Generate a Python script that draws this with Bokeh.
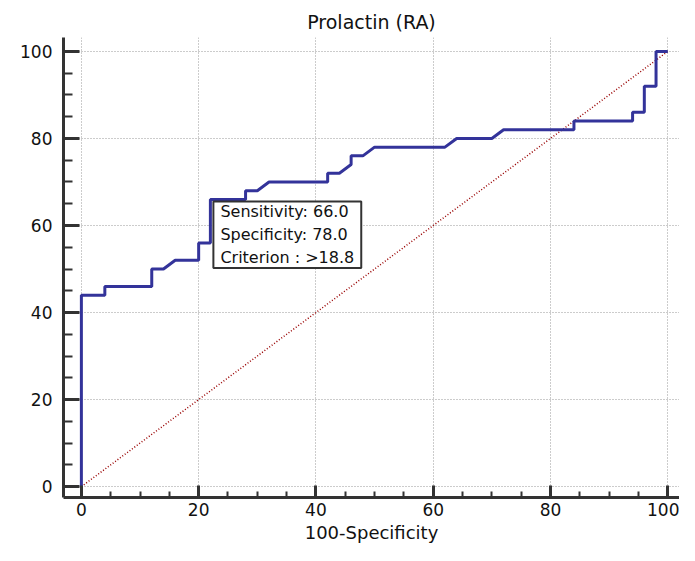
from bokeh.plotting import figure
from bokeh.models import Range1d, Label, SingleIntervalTicker
from bokeh.embed import file_html
from bokeh.resources import INLINE

# ROC curve points (100-Specificity, Sensitivity)
fpr = [0, 0, 4, 4, 12, 12, 14, 16, 20, 20, 22, 22, 28, 28, 30, 32, 42, 42, 44, 46,
       46, 48, 50, 62, 64, 70, 72, 84, 84, 94, 94, 96, 96, 98, 98, 100]
tpr = [0, 44, 44, 46, 46, 50, 50, 52, 52, 56, 56, 66, 66, 68, 68, 70, 70, 72, 72, 74,
       76, 76, 78, 78, 80, 80, 82, 82, 84, 84, 86, 86, 92, 92, 100, 100]
ref_x = [0, 100]
ref_y = [0, 100]
crit_point = (22, 66)
crit_text = "Sensitivity: 66.0\nSpecificity: 78.0\nCriterion : >18.8"
title_text = "Prolactin (RA)"
x_label = "100-Specificity"

FONT = "DejaVu Sans"

p = figure(width=679, height=545, output_backend="svg", toolbar_location=None,
           x_range=Range1d(-3.05, 102.0), y_range=Range1d(-2.5, 103.2),
           title=title_text, min_border_left=63, min_border_right=0,
           min_border_top=37, min_border_bottom=42)
p.outline_line_color = None
p.background_fill_color = "white"
p.border_fill_color = "white"

p.title.align = "center"
p.title.offset = 7
p.title.standoff = 9
p.title.text_font = FONT
p.title.text_font_size = "19px"
p.title.text_font_style = "normal"
p.title.text_color = "#111111"

for ax, maj, mnr in ((p.xaxis[0], 12, 6), (p.yaxis[0], 16, 9)):
    ax.ticker = SingleIntervalTicker(interval=20, num_minor_ticks=4)
    ax.axis_line_width = 3
    ax.axis_line_color = "#333333"
    ax.major_tick_line_width = 3
    ax.major_tick_line_color = "#333333"
    ax.minor_tick_line_width = 2
    ax.minor_tick_line_color = "#333333"
    ax.major_tick_in = maj
    ax.major_tick_out = 0
    ax.minor_tick_in = mnr
    ax.minor_tick_out = 0
    ax.major_label_text_font = FONT
    ax.major_label_text_font_size = "17px"
    ax.major_label_text_color = "#111111"
    ax.major_label_standoff = 5

p.yaxis.major_label_standoff = 11

p.xaxis.axis_label = x_label
p.xaxis.axis_label_text_font = FONT
p.xaxis.axis_label_text_font_size = "18px"
p.xaxis.axis_label_text_font_style = "normal"
p.xaxis.axis_label_text_color = "#111111"
p.xaxis.axis_label_standoff = 3

for g in (p.xgrid[0], p.ygrid[0]):
    g.ticker = SingleIntervalTicker(interval=20)
    g.grid_line_color = "#999999"
    g.grid_line_dash = "1 2"
    g.grid_line_width = 1

p.line(ref_x, ref_y, line_color="#990000", line_width=1.5, line_dash="1 2")
p.line(fpr, tpr, line_color="#33339a", line_width=3)

lab = Label(x=crit_point[0], y=crit_point[1], text=crit_text,
            text_font=FONT, text_font_size="16px", text_color="#111111",
            text_align="left", text_baseline="top", text_line_height=1.2,
            background_fill_color="white", border_line_color="#333333",
            border_line_width=2, padding=(7, 1), x_offset=3, y_offset=-2)
p.add_layout(lab)

open("out.html", "w").write(file_html(p, INLINE))
